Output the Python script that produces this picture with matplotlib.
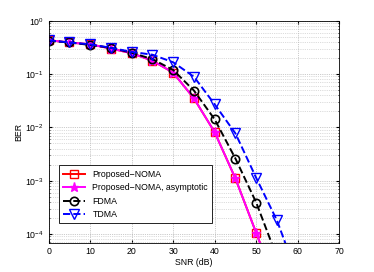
import matplotlib
matplotlib.use('Agg')
import matplotlib.pyplot as plt

plt.rcParams['font.family'] = ['Liberation Sans', 'DejaVu Sans']

# SNR points (dB)
snr = [0, 5, 10, 15, 20, 25, 30, 35, 40, 45, 50, 55]
snr_tdma = [0, 5, 10, 15, 20, 25, 30, 35, 40, 45, 50, 55, 60]

# BER values
ber_noma = [0.43, 0.39, 0.36, 0.30, 0.245, 0.178, 0.106, 0.035, 0.0081, 0.0011, 1.05e-4, 1.0e-5]
ber_noma_asym = [0.43, 0.39, 0.36, 0.30, 0.245, 0.178, 0.106, 0.035, 0.0081, 0.0011, 1.05e-4, 1.0e-5]
ber_fdma = [0.42, 0.39, 0.35, 0.31, 0.25, 0.19, 0.119, 0.049, 0.0141, 0.0026, 3.9e-4, 3.7e-5]
ber_tdma = [0.43, 0.39, 0.36, 0.31, 0.26, 0.23, 0.166, 0.089, 0.027, 0.0077, 1.13e-3, 1.8e-4, 1.6e-5]

fig = plt.figure(figsize=(3.74, 2.72), dpi=100)
ax = fig.add_axes([0.130, 0.108, 0.777, 0.816])

ax.semilogy(snr, ber_noma, '-s', color='red', lw=1.4, ms=6, mfc='none', mew=1.0,
            label='Proposed\u2212NOMA')
ax.semilogy(snr, ber_noma_asym, '-*', color='magenta', lw=1.4, ms=6.5, mew=1.0,
            label='Proposed\u2212NOMA, asymptotic')
ax.semilogy(snr, ber_fdma, '--o', color='black', lw=1.4, ms=6, mfc='none', mew=1.2,
            label='FDMA')
ax.semilogy(snr_tdma, ber_tdma, '--v', color='blue', lw=1.4, ms=6.5, mfc='none', mew=1.0,
            label='TDMA')

ax.set_xlim(0, 70)
ax.set_ylim(6.9e-5, 1)
ax.set_xticks(range(0, 71, 10))
ax.grid(True, which='major', ls=':', lw=0.5, color='#999999')
ax.grid(True, which='minor', ls=':', lw=0.5, color='#bbbbbb')
ax.minorticks_on()
ax.tick_params(labelsize=6.3, which='both', direction='in', top=True, right=True, length=2)
ax.tick_params(which='minor', length=1)
ax.xaxis.set_minor_locator(matplotlib.ticker.NullLocator())
for s in ax.spines.values():
    s.set_linewidth(0.6)

ax.set_xlabel('SNR (dB)', fontsize=6.3, labelpad=1)
ax.set_ylabel('BER', fontsize=6.3, labelpad=1)

leg = ax.legend(loc='lower left', bbox_to_anchor=(0.036, 0.087), borderaxespad=0,
                fontsize=6.3, fancybox=False, edgecolor='black', framealpha=1,
                handlelength=2.5, borderpad=0.5, labelspacing=0.5)
leg.get_frame().set_linewidth(0.6)

fig.savefig('out.png', dpi=100)
